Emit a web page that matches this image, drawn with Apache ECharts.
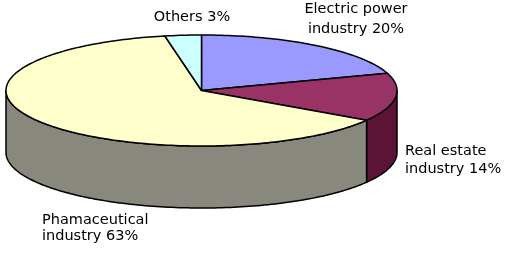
<!DOCTYPE html>
<html>
<head>
<meta charset="utf-8">
<script src="https://cdn.jsdelivr.net/npm/echarts@6/dist/echarts.min.js"></script>
<style>html,body{margin:0;padding:0;background:#fff;}#main{width:505px;height:256px;}</style>
</head>
<body>
<div id="main"></div>
<script>
// ---- data ----
const categories = ['Electric power\nindustry', 'Real estate\nindustry', 'Phamaceutical\nindustry', 'Others'];
const values = [20, 14, 63, 3];
const topColors = ['#9999FF', '#993366', '#FFFFCC', '#CCFFFF'];
const sideColors = ['#6666B0', '#5C1436', '#88887C', '#88AAAA'];

// ---- layout (not data) ----
const geo = { cx: 201.5, cy: 90.5, rx: 195.5, ry: 55.5, depth: 62 };
const labelLayout = [
  { x: 356, y: 19, align: 'center', lh: 20 },
  { x: 405, y: 160, align: 'left', lh: 17.5 },
  { x: 42, y: 228, align: 'left', lh: 16 },
  { x: 192, y: 17, align: 'center', lh: 16 }
];

const total = values.reduce((a, b) => a + b, 0);
const starts = [];
let acc = 0;
values.forEach(v => { starts.push(acc / total * Math.PI * 2); acc += v; });

function pt(t, dy) {
  return [geo.cx + geo.rx * Math.sin(t), geo.cy - geo.ry * Math.cos(t) + (dy || 0)];
}
function arc(a0, a1, dy) {
  const n = Math.max(2, Math.ceil(Math.abs(a1 - a0) / 0.02));
  const out = [];
  for (let i = 0; i <= n; i++) out.push(pt(a0 + (a1 - a0) * i / n, dy));
  return out;
}

const data = values.map((v, i) => ({ name: categories[i], value: v }));

const chart = echarts.init(document.getElementById('main'), null, { renderer: 'canvas' });
chart.setOption({
  backgroundColor: '#ffffff',
  animation: false,
  series: [
    {
      type: 'custom',
      coordinateSystem: 'none',
      z: 1,
      data: data,
      renderItem: function (params, api) {
        const i = params.dataIndex;
        const s = starts[i];
        const e = s + api.value(0) / total * Math.PI * 2;
        const a0 = Math.max(s, Math.PI / 2);
        const a1 = Math.min(e, Math.PI * 1.5);
        if (a1 <= a0) return { type: 'group', children: [] };
        const pts = arc(a0, a1, 0).concat(arc(a1, a0, geo.depth));
        return {
          type: 'polygon',
          shape: { points: pts },
          style: { fill: sideColors[i], stroke: '#000', lineWidth: 1.5, lineJoin: 'round' }
        };
      }
    },
    {
      type: 'custom',
      coordinateSystem: 'none',
      z: 2,
      data: data,
      renderItem: function (params, api) {
        const i = params.dataIndex;
        const s = starts[i];
        const e = s + api.value(0) / total * Math.PI * 2;
        const pts = [[geo.cx, geo.cy]].concat(arc(s, e, 0));
        const L = labelLayout[i];
        return {
          type: 'group',
          children: [
            {
              type: 'polygon',
              shape: { points: pts },
              style: { fill: topColors[i], stroke: '#000', lineWidth: 1.5, lineJoin: 'round' }
            },
            {
              type: 'text',
              x: L.x, y: L.y,
              style: {
                text: categories[i] + ' ' + api.value(0) + '%',
                fill: '#000',
                fontSize: 14.5,
                fontFamily: 'DejaVu Sans',
                lineHeight: L.lh,
                align: L.align,
                verticalAlign: 'middle'
              }
            }
          ]
        };
      }
    }
  ]
});
</script>
</body>
</html>
